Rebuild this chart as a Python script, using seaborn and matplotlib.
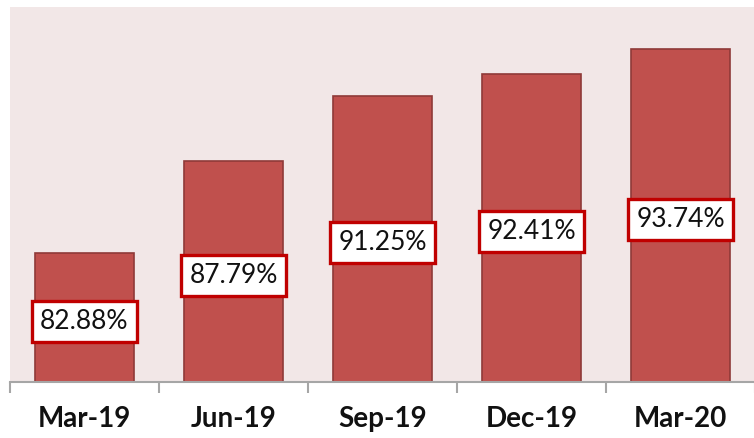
import numpy as np
import pandas as pd
import matplotlib
matplotlib.use("Agg")
import matplotlib.pyplot as plt
import seaborn as sns

# values
quarters = ["Mar-19", "Jun-19", "Sep-19", "Dec-19", "Mar-20"]
ratios = [82.88, 87.79, 91.25, 92.41, 93.74]
y_floor = 76
y_ceil = 96

df = pd.DataFrame({"quarter": quarters, "ratio": ratios})

sns.set_style("white")
plt.rcParams["font.family"] = ["Lato", "DejaVu Sans"]

fig = plt.figure(figsize=(7.54, 4.38), dpi=100)
ax = fig.add_axes([10 / 754, 56 / 438, 745 / 754, 375 / 438])
ax.set_facecolor("#f2e7e7")

sns.barplot(
    data=df,
    x="quarter",
    y="ratio",
    color="#c0504d",
    saturation=1,
    width=0.67,
    edgecolor="#8f3a38",
    linewidth=1.2,
    ax=ax,
)

ax.set_ylim(y_floor, y_ceil)
ax.set_xlim(-0.5, len(quarters) - 0.5)

# value labels sit at the middle of each bar, in white boxes
for i, v in enumerate(ratios):
    ax.text(
        i, (y_floor + v) / 2 - 0.2, f"{v:.2f}%",
        ha="center", va="center", fontsize=19, color="#111111",
        bbox=dict(boxstyle="square,pad=0.3", facecolor="white",
                  edgecolor="#c00000", linewidth=2.4),
    )

for side in ["top", "right", "left"]:
    ax.spines[side].set_visible(False)
ax.spines["bottom"].set_color("#a6a6a6")
ax.spines["bottom"].set_linewidth(1.5)

ax.set_yticks([])
ax.set_xlabel("")
ax.set_ylabel("")
ax.set_xticks(range(len(quarters)))
ax.set_xticklabels(quarters, fontsize=20, fontweight="bold", color="#111111")
ax.tick_params(axis="x", which="major", bottom=True, length=0, pad=17)
ax.set_xticks(np.arange(-0.5, len(quarters)), minor=True)
ax.tick_params(axis="x", which="minor", bottom=True, length=8, width=1.5,
               color="#a6a6a6", direction="out")

fig.savefig("out.png", dpi=100, facecolor="white")
